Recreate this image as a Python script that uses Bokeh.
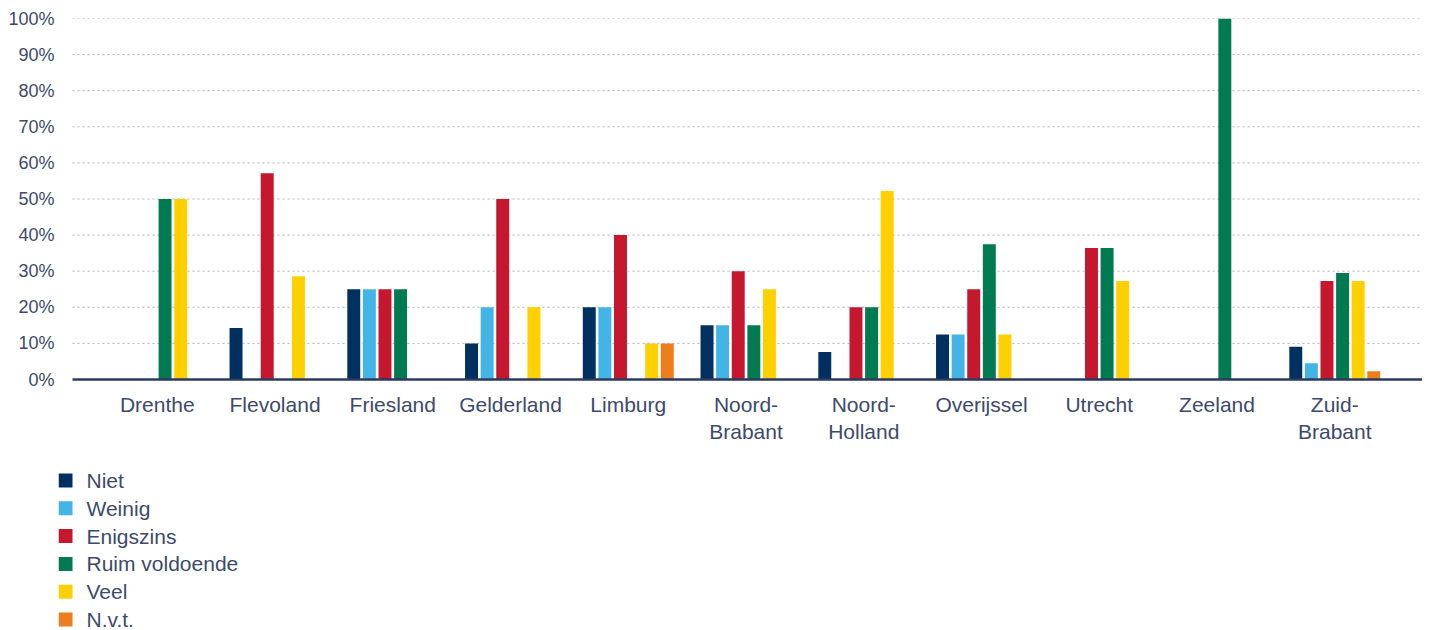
from bokeh.plotting import figure
from bokeh.layouts import column
from bokeh.models import (ColumnDataSource, FixedTicker, Range1d,
                          PrintfTickFormatter)
from bokeh.core.properties import value
from bokeh.transform import dodge
from bokeh.embed import file_html
from bokeh.resources import INLINE

# ---------------- data ----------------
provinces = ["Drenthe", "Flevoland", "Friesland", "Gelderland", "Limburg",
             "Noord-Brabant", "Noord-Holland", "Overijssel", "Utrecht",
             "Zeeland", "Zuid-Brabant"]
tick_labels = ["Drenthe", "Flevoland", "Friesland", "Gelderland", "Limburg",
               "Noord-\nBrabant", "Noord-\nHolland", "Overijssel", "Utrecht",
               "Zeeland", "Zuid-\nBrabant"]
series = ["Niet", "Weinig", "Enigszins", "Ruim voldoende", "Veel", "N.v.t."]

niet      = [0, 14.3, 25, 10, 20, 15, 7.6, 12.5, 0, 0, 9.1]
weinig    = [0, 0, 25, 20, 20, 15, 0, 12.5, 0, 0, 4.5]
enigszins = [0, 57.1, 25, 50, 40, 30, 20, 25, 36.4, 0, 27.3]
ruim      = [50, 0, 25, 0, 0, 15, 20, 37.5, 36.4, 100, 29.5]
veel      = [50, 28.6, 0, 20, 10, 25, 52.2, 12.5, 27.3, 0, 27.3]
nvt       = [0, 0, 0, 0, 10, 0, 0, 0, 0, 0, 2.3]

y_ticks = [0, 10, 20, 30, 40, 50, 60, 70, 80, 90, 100]

colors = ["#00305F", "#42B5E6", "#C5172E", "#007A50", "#FFD000", "#EE7D1E"]

# ---------------- styling / layout ----------------
TEXT = "#3D4A6B"
FONT = "Liberation Sans"
W = 1422
H_MAIN = 446
H_LEG = 184
LEFT = 58                      # frame left edge (px), shared by both strips
X_LO, X_HI = -0.72, 10.745     # visible category extent (grid / axis line)
PX_PER_UNIT = 117.75
X_START = X_LO - 14 / PX_PER_UNIT

values = [niet, weinig, enigszins, ruim, veel, nvt]
xs = list(range(len(provinces)))
data = {"x": xs, "prov": provinces}
keys = ["s%d" % i for i in range(len(series))]
for k, v in zip(keys, values):
    data[k] = v
source = ColumnDataSource(data)

p = figure(width=W, height=H_MAIN, output_backend="svg", toolbar_location=None,
           x_range=Range1d(X_START, X_HI), y_range=Range1d(0, 100),
           min_border_left=LEFT, min_border_right=0, min_border_top=18,
           min_border_bottom=H_MAIN - 380)
p.outline_line_color = None
p.background_fill_color = "white"

# dotted horizontal grid lines, starting where the category area starts
grid_src = ColumnDataSource(dict(y=y_ticks[1:]))
p.segment(x0=X_LO, x1=X_HI, y0="y", y1="y", source=grid_src,
          line_color="#B0B2CC", line_width=1, line_dash="2 3", level="underlay")

step = 0.1325
bar_w = 0.11
for i, (k, c) in enumerate(zip(keys, colors)):
    p.vbar(x=dodge("x", (i - 2.5) * step, range=p.x_range), top=k, bottom=0,
           width=bar_w, source=source, fill_color=c, line_color=None)

# axes
p.xaxis.ticker = FixedTicker(ticks=xs)
p.xaxis.bounds = (X_LO, X_HI)
p.xaxis.major_label_overrides = {x: lab for x, lab in zip(xs, tick_labels)}
p.xaxis.axis_line_color = "#2B3A5F"
p.xaxis.axis_line_width = 2.5
p.xaxis.major_tick_line_color = None
p.xaxis.major_tick_out = 0
p.xaxis.major_tick_in = 0
p.xaxis.minor_tick_line_color = None
p.xaxis.major_label_text_font = FONT
p.xaxis.major_label_text_font_size = "21px"
p.xaxis.major_label_text_color = TEXT
p.xaxis.major_label_standoff = 13

p.yaxis.ticker = FixedTicker(ticks=y_ticks)
p.yaxis.formatter = PrintfTickFormatter(format="%d%%")
p.yaxis.axis_line_color = None
p.yaxis.major_tick_line_color = None
p.yaxis.major_tick_out = 0
p.yaxis.major_tick_in = 0
p.yaxis.minor_tick_line_color = None
p.yaxis.major_label_text_font = FONT
p.yaxis.major_label_text_font_size = "18px"
p.yaxis.major_label_text_color = TEXT
p.yaxis.major_label_standoff = 4

p.xgrid.grid_line_color = None
p.ygrid.grid_line_color = None

# ---------------- legend strip below the chart (pixel-like units) ----------------
pl = figure(width=W, height=H_LEG, output_backend="svg", toolbar_location=None,
            x_axis_type=None, y_axis_type=None,
            min_border_left=LEFT, min_border_right=0, min_border_top=0,
            min_border_bottom=0,
            x_range=Range1d(LEFT, W), y_range=Range1d(H_LEG, 0))
pl.outline_line_color = None
pl.grid.grid_line_color = None

leg_first = 34.0
leg_step = 27.8
leg_y = [leg_first + i * leg_step for i in range(len(series))]
leg_src = ColumnDataSource(dict(y=leg_y, label=series, color=colors))
pl.scatter(x=65, y="y", marker="square", size=14, fill_color="color",
           line_color=None, source=leg_src)
pl.text(x=86, y="y", text="label", source=leg_src, text_baseline="middle",
        text_align="left", text_font=value(FONT), text_font_size="21px",
        text_color=TEXT)

layout = column(p, pl, spacing=0)
open("out.html", "w").write(file_html(layout, INLINE))
